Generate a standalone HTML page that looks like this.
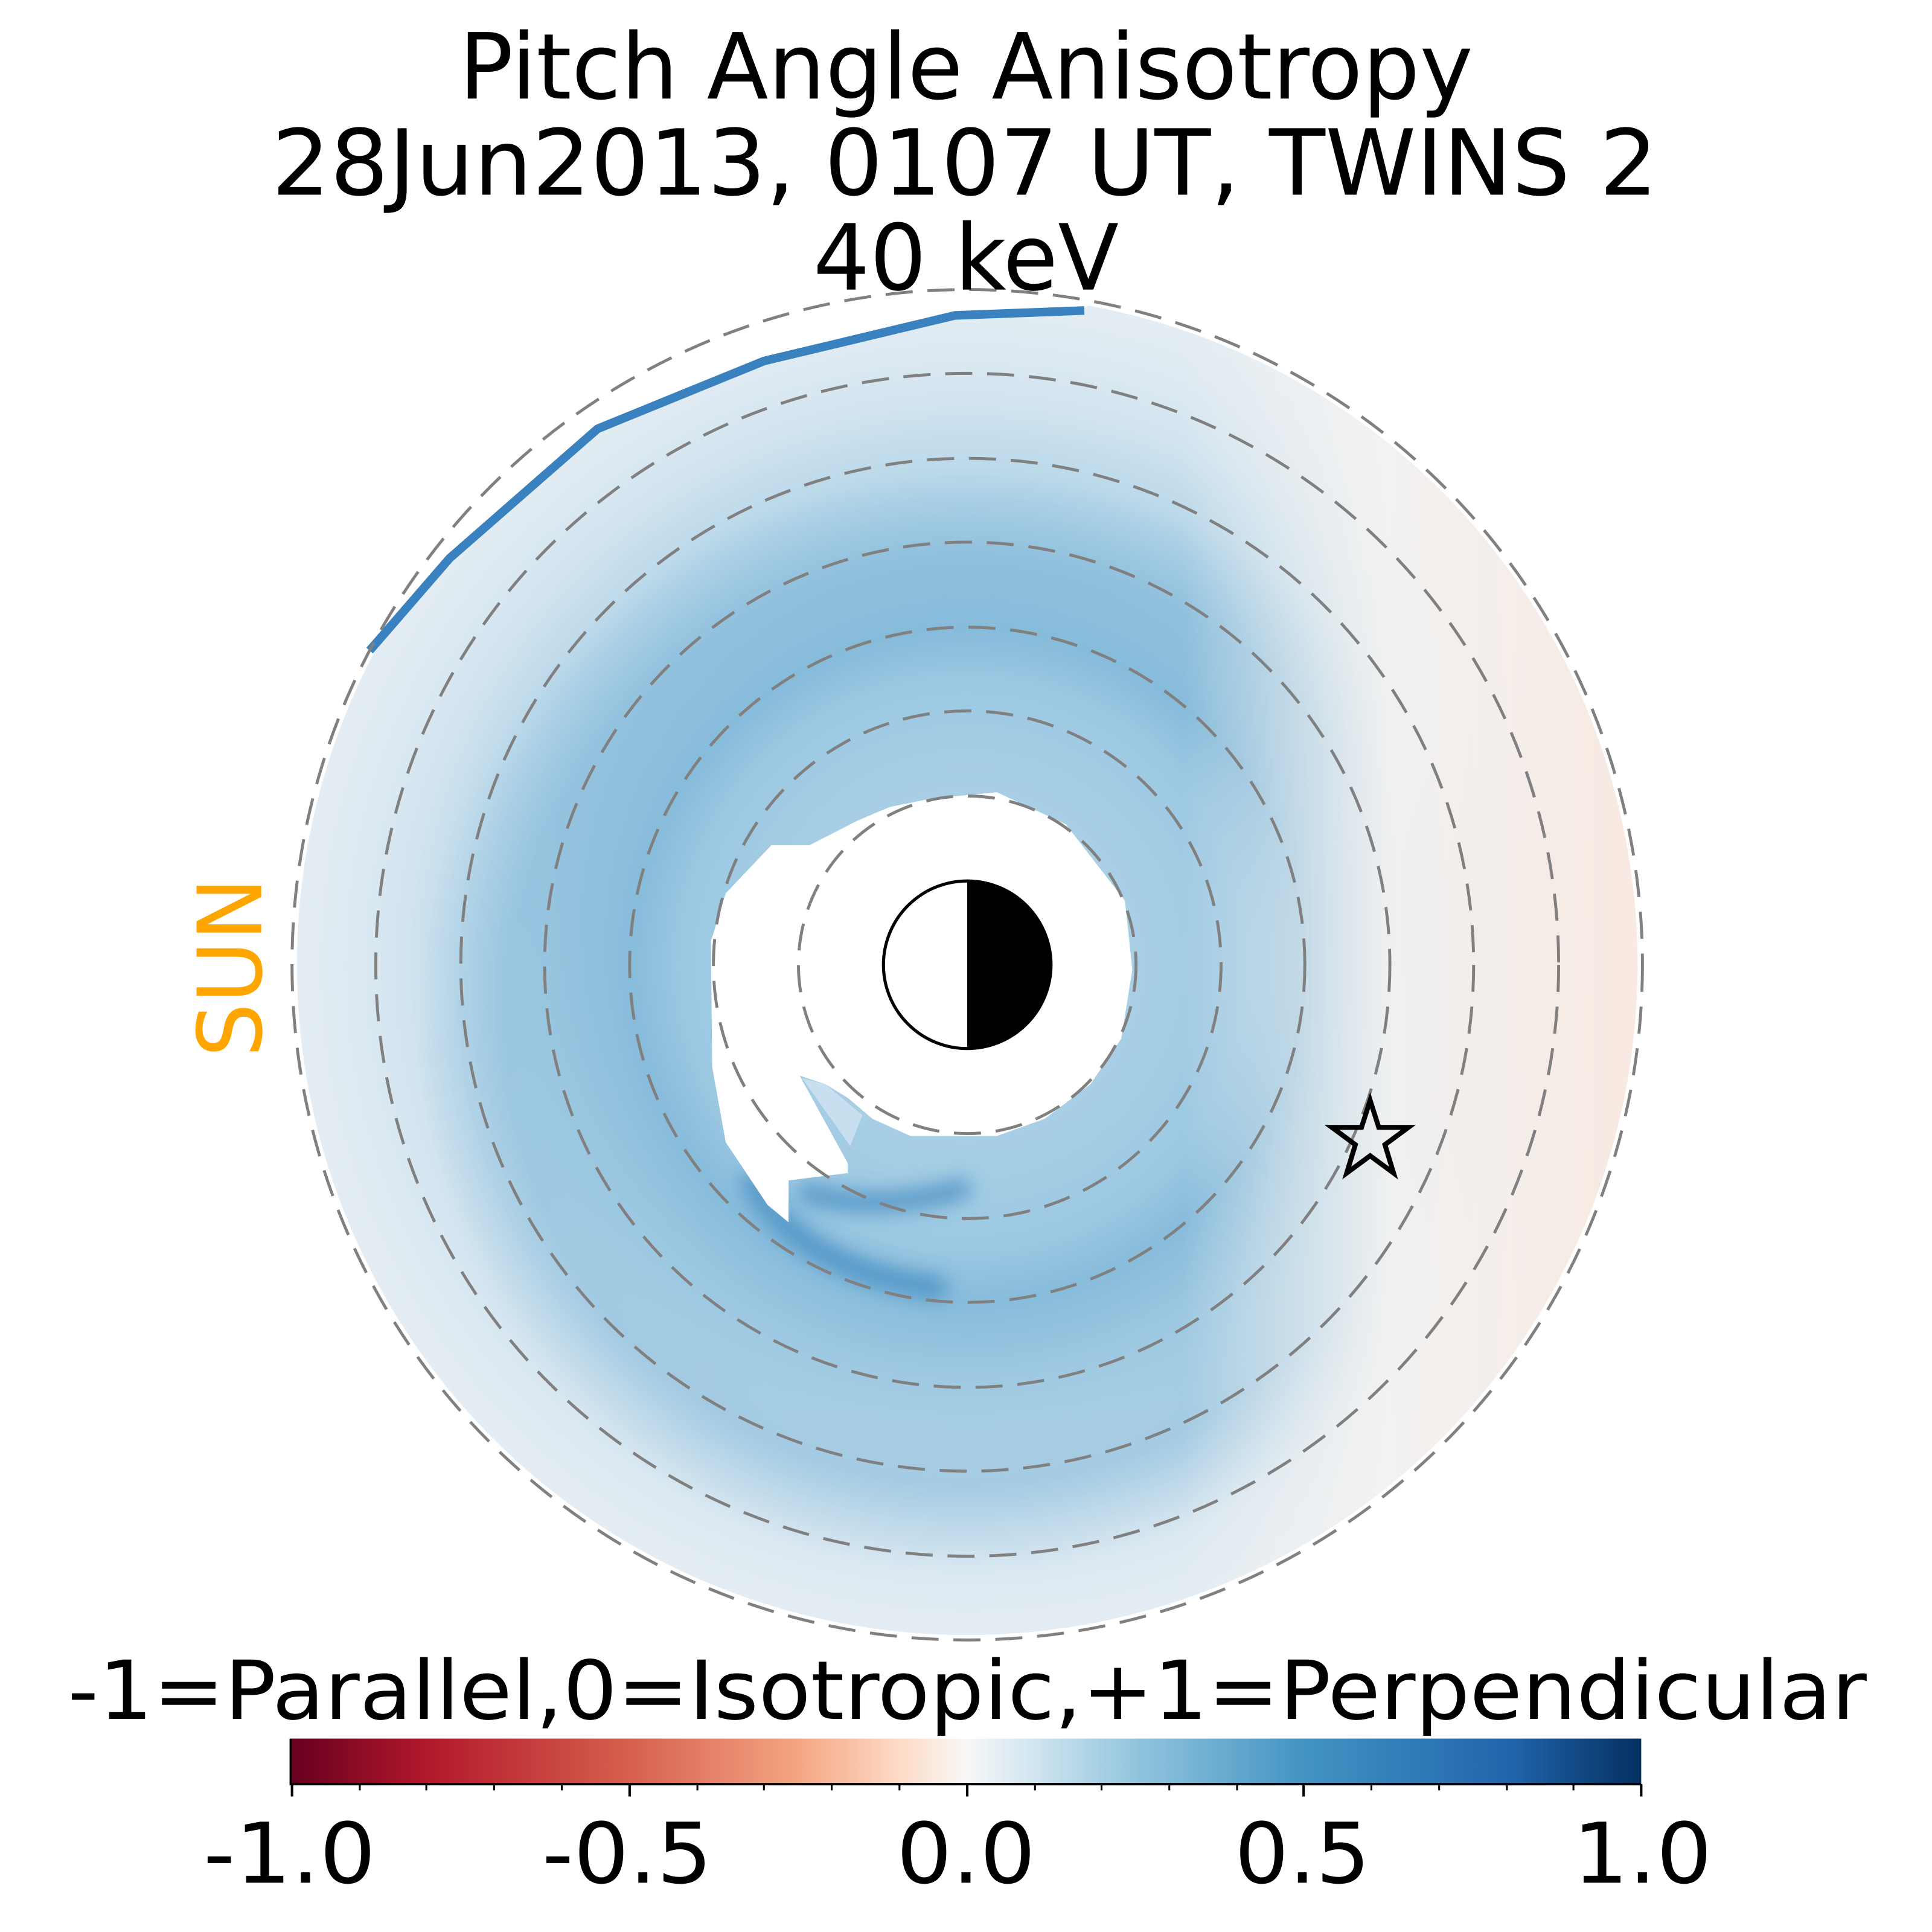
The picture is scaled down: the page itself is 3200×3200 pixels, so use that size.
<!DOCTYPE html>
<html><head><meta charset="utf-8"><style>html,body{margin:0;padding:0;background:#fff}svg{display:block}</style></head>
<body>
<svg xmlns="http://www.w3.org/2000/svg" width="3200" height="3200" viewBox="0 0 1568 1568">
<defs>
<radialGradient id="rg" cx="785" cy="783" r="546" gradientUnits="userSpaceOnUse">
<stop offset="0.25" stop-color="#a9cfe5"/>
<stop offset="0.42" stop-color="#9cc8e2"/>
<stop offset="0.50" stop-color="#88bcdb"/>
<stop offset="0.58" stop-color="#97c4df"/>
<stop offset="0.66" stop-color="#a9cfe5"/>
<stop offset="0.74" stop-color="#bcd9ea"/>
<stop offset="0.84" stop-color="#d2e4ef"/>
<stop offset="0.93" stop-color="#dfeaf2"/>
<stop offset="1" stop-color="#e4edf3"/>
</radialGradient>
<radialGradient id="rg2" cx="785" cy="830" r="520" gradientUnits="userSpaceOnUse">
<stop offset="0.55" stop-color="#7fb6d8" stop-opacity="0"/>
<stop offset="0.72" stop-color="#7fb6d8" stop-opacity="0.45"/>
<stop offset="0.86" stop-color="#7fb6d8" stop-opacity="0"/>
</radialGradient>
<linearGradient id="lg" x1="960" y1="0" x2="1330" y2="0" gradientUnits="userSpaceOnUse">
<stop offset="0" stop-color="#f3f2f1" stop-opacity="0"/>
<stop offset="0.45" stop-color="#f3f2f1" stop-opacity="0.95"/>
<stop offset="1" stop-color="#f8e9e1" stop-opacity="1"/>
</linearGradient>
<linearGradient id="cb" x1="237" y1="0" x2="1332" y2="0" gradientUnits="userSpaceOnUse">
<stop offset="0" stop-color="#67001f"/>
<stop offset="0.1" stop-color="#b2182b"/>
<stop offset="0.25" stop-color="#d6604d"/>
<stop offset="0.375" stop-color="#f4a582"/>
<stop offset="0.45" stop-color="#fddbc7"/>
<stop offset="0.5" stop-color="#f7f7f7"/>
<stop offset="0.55" stop-color="#d1e5f0"/>
<stop offset="0.625" stop-color="#92c5de"/>
<stop offset="0.75" stop-color="#4393c3"/>
<stop offset="0.9" stop-color="#2166ac"/>
<stop offset="1" stop-color="#053061"/>
</linearGradient>
<clipPath id="cp"><circle cx="785" cy="783" r="544"/></clipPath>
<filter id="bl" x="-50%" y="-50%" width="200%" height="200%"><feGaussianBlur stdDeviation="8"/></filter>
</defs>
<g clip-path="url(#cp)">
<circle cx="785" cy="783" r="546" fill="url(#rg)"/>
<circle cx="785" cy="783" r="546" fill="url(#rg2)"/>
<circle cx="785" cy="783" r="546" fill="url(#lg)"/>
<g filter="url(#bl)" fill="none" stroke="#3d87c0" stroke-linecap="round" opacity="0.75">
<path d="M 655 968 Q 710 985 780 965" stroke-width="16"/>
<path d="M 610 960 Q 650 1030 760 1045" stroke-width="18"/>
</g>
</g>
<!-- upper-left ragged edge mask -->
<polygon points="900,236 880,250 775,253 620,290 485,345 365,450 300,525 250,580 150,580 150,236" fill="#fff"/>
<polyline points="880,252 775,256 620,293 485,348 365,453 300,528" fill="none" stroke="#3a82bf" stroke-width="7" stroke-linejoin="bevel"/>
<!-- inner hole -->
<polygon fill="#fff" points="756,648 809,643 865,669 913,731 919,787 910,843 885,880 848,908 809,922 739,922 708,908 688,891 670,880 649,873 688,944 688,952 640,958 640,992 623,978 589,927 578,866 577,764 589,725 626,686 657,686 696,666 722,655"/>
<polygon fill="#cfe3f0" opacity="0.8" points="651,875 670,880 700,905 690,930"/>
<!-- dashed circles -->
<g fill="none" stroke="#808080" stroke-width="2.4" stroke-dasharray="22 12">
<circle cx="785" cy="783" r="137"/>
<circle cx="785" cy="783" r="206"/>
<circle cx="785" cy="783" r="274"/>
<circle cx="785" cy="783" r="343"/>
<circle cx="785" cy="783" r="411"/>
<circle cx="785" cy="783" r="480"/>
<circle cx="785" cy="783" r="548"/>
</g>
<g font-family="DejaVu Sans, Liberation Sans, sans-serif" fill="#000" text-anchor="middle">
<text x="784" y="80" font-size="74" textLength="823" lengthAdjust="spacingAndGlyphs">Pitch Angle Anisotropy</text>
<text x="783" y="158" font-size="74" textLength="1125" lengthAdjust="spacingAndGlyphs">28Jun2013, 0107 UT,  TWINS 2</text>
<text x="784" y="235" font-size="74" textLength="248" lengthAdjust="spacingAndGlyphs">40 keV</text>
</g>
<!-- earth -->
<circle cx="785" cy="783" r="68" fill="#fff"/>
<path d="M 785 715 A 68 68 0 0 1 785 851 Z" fill="#000"/>
<circle cx="785" cy="783" r="68" fill="none" stroke="#000" stroke-width="2.5"/>
<!-- star -->
<polygon points="1112,893 1119,915 1143,915 1124,929 1131,952 1112,938 1093,952 1100,929 1081,915 1105,915" fill="none" stroke="#000" stroke-width="4" stroke-linejoin="miter"/>
<!-- SUN -->
<text transform="translate(212,785) rotate(-90)" font-family="DejaVu Sans, Liberation Sans, sans-serif" font-size="72" fill="#ffa500" text-anchor="middle" textLength="146" lengthAdjust="spacingAndGlyphs">SUN</text>
<!-- colorbar -->
<text x="785" y="1395" font-family="DejaVu Sans, Liberation Sans, sans-serif" font-size="66" text-anchor="middle" textLength="1460" lengthAdjust="spacingAndGlyphs">-1=Parallel,0=Isotropic,+1=Perpendicular</text>
<rect x="237" y="1411" width="1095" height="37" fill="url(#cb)"/>
<g stroke="#000" stroke-width="2">
<line x1="236" y1="1411" x2="236" y2="1449"/>
<line x1="237" y1="1448" x2="1332" y2="1448"/>
<line x1="237" y1="1448" x2="237" y2="1458"/>
<line x1="511" y1="1448" x2="511" y2="1458"/>
<line x1="785" y1="1448" x2="785" y2="1458"/>
<line x1="1058" y1="1448" x2="1058" y2="1458"/>
<line x1="1332" y1="1448" x2="1332" y2="1458"/>
<g stroke-width="1.5">
<line x1="292" y1="1448" x2="292" y2="1453"/><line x1="346" y1="1448" x2="346" y2="1453"/><line x1="401" y1="1448" x2="401" y2="1453"/><line x1="456" y1="1448" x2="456" y2="1453"/>
<line x1="566" y1="1448" x2="566" y2="1453"/><line x1="620" y1="1448" x2="620" y2="1453"/><line x1="675" y1="1448" x2="675" y2="1453"/><line x1="730" y1="1448" x2="730" y2="1453"/>
<line x1="840" y1="1448" x2="840" y2="1453"/><line x1="894" y1="1448" x2="894" y2="1453"/><line x1="949" y1="1448" x2="949" y2="1453"/><line x1="1004" y1="1448" x2="1004" y2="1453"/>
<line x1="1113" y1="1448" x2="1113" y2="1453"/><line x1="1168" y1="1448" x2="1168" y2="1453"/><line x1="1223" y1="1448" x2="1223" y2="1453"/><line x1="1277" y1="1448" x2="1277" y2="1453"/>
</g>
</g>
<g font-family="DejaVu Sans, Liberation Sans, sans-serif" font-size="68" text-anchor="middle">
<text x="235" y="1528" textLength="140" lengthAdjust="spacingAndGlyphs">-1.0</text>
<text x="509" y="1528" textLength="138" lengthAdjust="spacingAndGlyphs">-0.5</text>
<text x="784" y="1528" textLength="113" lengthAdjust="spacingAndGlyphs">0.0</text>
<text x="1057" y="1528" textLength="110" lengthAdjust="spacingAndGlyphs">0.5</text>
<text x="1333" y="1528" textLength="113" lengthAdjust="spacingAndGlyphs">1.0</text>
</g>
</svg>
</body></html>
